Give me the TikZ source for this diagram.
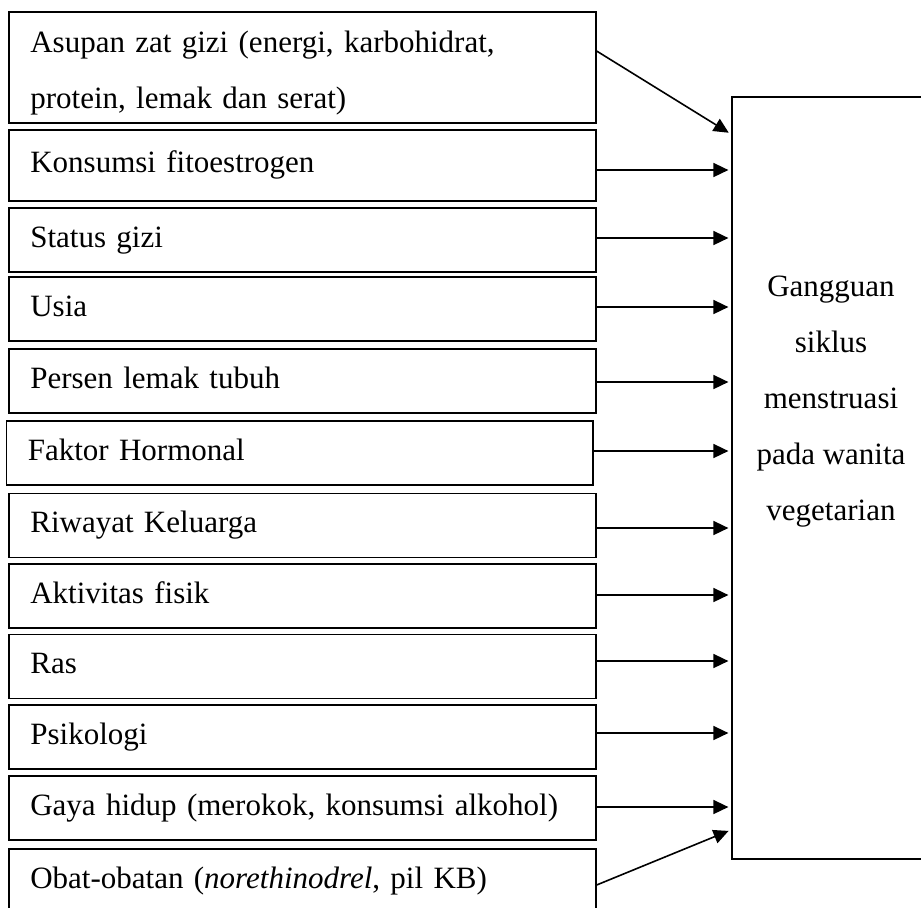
\documentclass[tikz,border=0pt]{standalone}
\usepackage{fontspec}
\setmainfont{Liberation Serif}
\usetikzlibrary{arrows.meta}

\begin{document}
\begin{tikzpicture}[
  x=0.5pt, y=-0.5pt,
  factor/.style={draw, line width=0.9pt, minimum width=293.35pt, text width=272pt, inner xsep=10.5pt, inner ysep=0pt, minimum height=32pt, align=left, text height=11pt, text depth=4pt, font=\fontsize{15.5}{28}\selectfont},
  effect/.style={draw, line width=0.9pt, minimum width=99.3pt, minimum height=380.85pt},
  efftext/.style={inner sep=0pt, align=center, font=\fontsize{15.5}{28}\selectfont},
  arr/.style={-{Triangle[length=7.5pt, width=7pt]}, line width=0.8pt, shorten >=1.2pt}
]
\clip (0,0) rectangle (921,907);

\node[factor, minimum height=55.5pt, text depth=26pt] (k1) at (302.35, 67.2) {Asupan zat gizi (energi, karbohidrat,\\protein, lemak dan serat)};
\node[factor, minimum height=35.5pt] (k2) at (302.35, 165.5) {Konsumsi fitoestrogen};
\node[factor] (k3) at (302.35, 240) {Status gizi};
\node[factor] (k4) at (302.35, 309) {Usia};
\node[factor] (k5) at (302.35, 381) {Persen lemak tubuh};
\node[factor] (k6) at (299.8, 453) {Faktor Hormonal};
\node[factor] (k7) at (302.35, 525.5) {Riwayat Keluarga};
\node[factor] (k8) at (302.35, 596) {Aktivitas fisik};
\node[factor] (k9) at (302.35, 666.5) {Ras};
\node[factor] (k10) at (302.35, 737) {Psikologi};
\node[factor] (k11) at (302.35, 808) {Gaya hidup (merokok, konsumsi alkohol)};
\node[factor] (k12) at (302.35, 881) {Obat-obatan (\textit{norethinodrel}, pil KB)};

\node[effect] (effect) at (831, 478.2) {};
\node[efftext] (efftext) at (831, 401.6) {Gangguan\\siklus\\menstruasi\\pada wanita\\vegetarian};

\draw[arr] (k1.east |- 0,51) -- (effect.west |- 0,134);
\foreach \i/\y in {2/170, 3/238, 4/307, 5/382, 6/451, 7/528, 8/595, 9/661, 10/733, 11/807}
  \draw[arr] (k\i.east |- 0,\y) -- (effect.west |- 0,\y);
\draw[arr] (k12.east |- 0,885) -- (effect.west |- 0,830);

\end{tikzpicture}
\end{document}
